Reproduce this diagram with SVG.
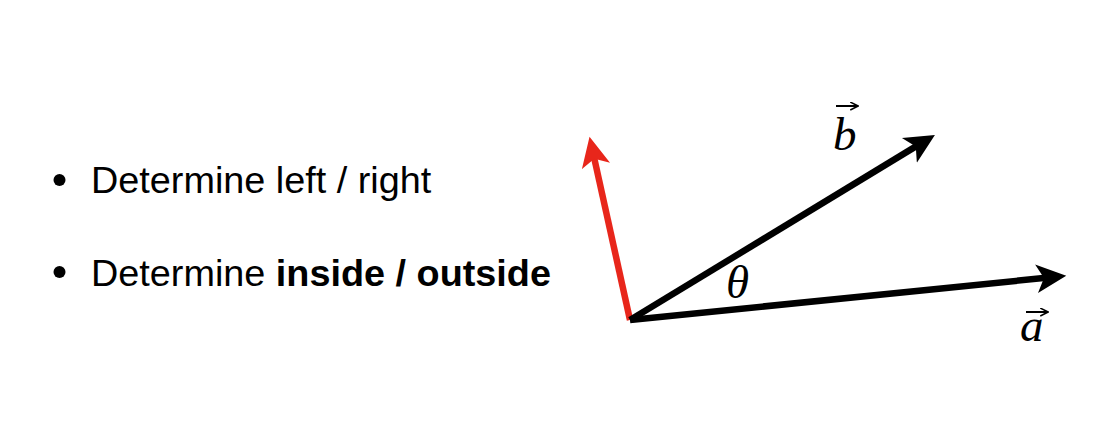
<svg xmlns="http://www.w3.org/2000/svg" width="1100" height="431" viewBox="0 0 1100 431">
<style>
.txt{font-family:"Liberation Sans",Arial,sans-serif;font-size:37.8px;fill:#000}
.b{font-weight:bold}
.math{font-family:"Liberation Serif","Times New Roman",serif;font-style:italic;font-size:47px;fill:#000}
.vec{stroke:#000;stroke-width:6.5;fill:none}
.red{stroke:#e8261b}
.ov{stroke:#000;stroke-width:2;fill:none}
</style>
<defs>
<marker id="ah" markerUnits="userSpaceOnUse" markerWidth="32" markerHeight="32" viewBox="0 0 30 30" refX="9" refY="15" orient="auto">
<path d="M28,15 L0,1.5 L7,15 L0,28.5 Z" fill="#000"/>
</marker>
<marker id="ahr" markerUnits="userSpaceOnUse" markerWidth="32" markerHeight="32" viewBox="0 0 30 30" refX="9" refY="15" orient="auto">
<path d="M28,15 L0,1.5 L7,15 L0,28.5 Z" fill="#e8261b"/>
</marker>
<marker id="sa" markerUnits="userSpaceOnUse" markerWidth="9" markerHeight="9" viewBox="0 0 8 8" refX="6" refY="4" orient="auto">
<path d="M0,0.5 L7,4 L0,7.5" fill="none" stroke="#000" stroke-width="1.4"/>
</marker>
</defs>
<rect width="1100" height="431" fill="#fff"/>
<g id="bullets">
<circle cx="59.5" cy="180" r="6" fill="#000"/>
<text class="txt" x="91" y="193">Determine left / right</text>
<circle cx="59.5" cy="272" r="6" fill="#000"/>
<text class="txt" x="91" y="285.5">Determine <tspan class="b">inside / outside</tspan></text>
</g>
<g id="connectors">
<line class="vec red" x1="630" y1="320" x2="593.9" y2="156.6" marker-end="url(#ahr)"/>
<line class="vec" x1="630" y1="320" x2="917.6" y2="145.4" marker-end="url(#ah)"/>
<line class="vec" x1="630" y1="320" x2="1046.1" y2="277.8" marker-end="url(#ah)"/>
</g>
<g id="label-b">
<text class="math" x="833" y="150">b</text>
<line class="ov" x1="836" y1="106" x2="857" y2="106" marker-end="url(#sa)"/>
</g>
<g id="label-theta">
<text class="math" x="726" y="298">θ</text>
</g>
<g id="label-a">
<text class="math" x="1020" y="341">a</text>
<line class="ov" x1="1026" y1="312" x2="1047" y2="312" marker-end="url(#sa)"/>
</g>
</svg>
